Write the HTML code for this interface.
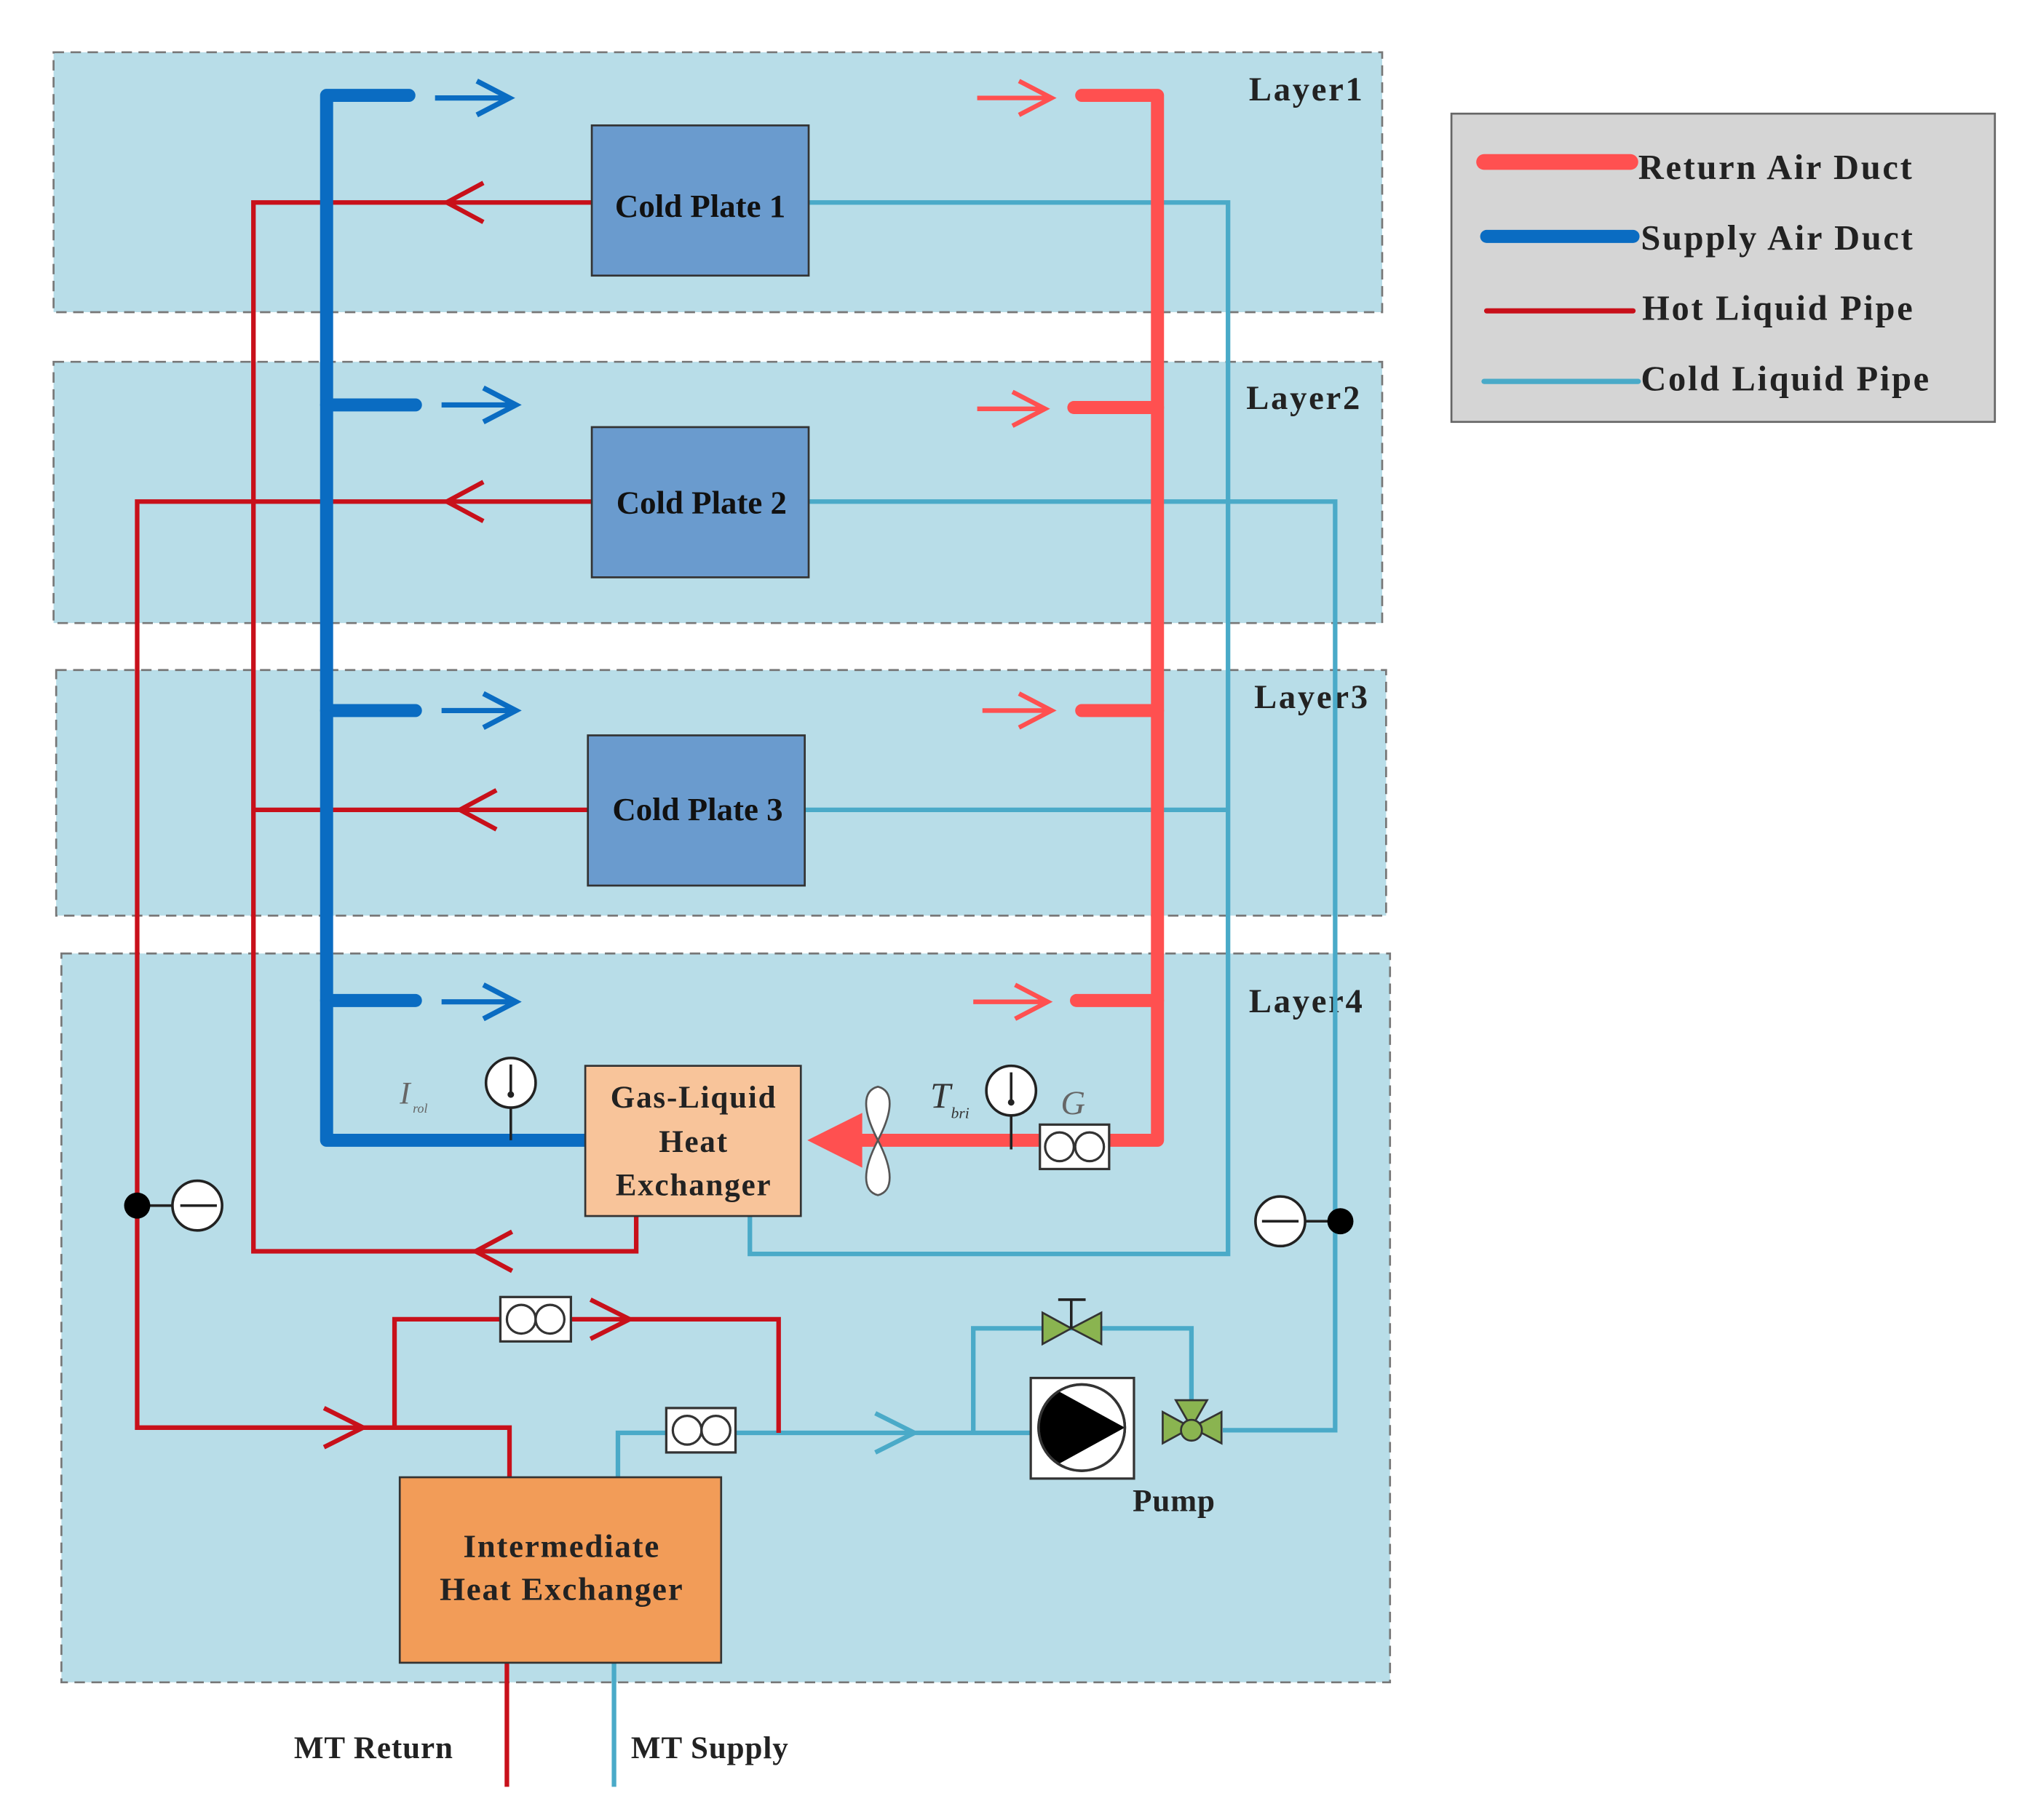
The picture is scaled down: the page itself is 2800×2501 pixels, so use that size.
<!DOCTYPE html>
<html><head><meta charset="utf-8"><style>html,body{margin:0;padding:0;background:#fff}svg{display:block}</style></head>
<body>
<svg width="2800" height="2501" viewBox="0 0 1560 1393.4" xmlns="http://www.w3.org/2000/svg" font-family="Liberation Serif, serif" font-weight="bold">
<g fill="#b8dde8" stroke="#777" stroke-width="1.5" stroke-dasharray="8,5">
<rect x="41" y="40" width="1017" height="199"/>
<rect x="41" y="277" width="1017" height="200"/>
<rect x="43" y="513" width="1018" height="188"/>
<rect x="47" y="730" width="1017" height="558"/>
</g>
<g font-size="26" fill="#222" letter-spacing="1.5">
<text x="956" y="77">Layer1</text><text x="954" y="313">Layer2</text><text x="960" y="542">Layer3</text><text x="956" y="775">Layer4</text>
</g>
<rect x="1111" y="87" width="416" height="236" fill="#d5d5d5" stroke="#666" stroke-width="1.5"/>
<g stroke-linecap="round">
<line x1="1136" y1="124" x2="1248" y2="124" stroke="#ff5050" stroke-width="12"/>
<line x1="1138" y1="181" x2="1250" y2="181" stroke="#0a6cc2" stroke-width="10"/>
<line x1="1138" y1="238" x2="1250" y2="238" stroke="#c8101a" stroke-width="4"/>
<line x1="1136" y1="292" x2="1254" y2="292" stroke="#4aaac8" stroke-width="4"/>
</g>
<g font-size="27" fill="#222" letter-spacing="1.5">
<text x="1254" y="137">Return Air Duct</text>
<text x="1256" y="191">Supply Air Duct</text>
<text x="1257" y="245">Hot Liquid Pipe</text>
<text x="1256" y="299">Cold Liquid Pipe</text>
</g>
<g fill="none" stroke="#4aaac8" stroke-width="3.5">
<polyline points="619,155 940,155 940,960 574,960 574,931"/>
<line x1="616" y1="620" x2="940" y2="620"/>
<polyline points="619,384 1022,384 1022,1095 936,1095"/>
<polyline points="473,1131 473,1097 868,1097"/>
<polyline points="745,1097 745,1017 912,1017 912,1080"/>
<polyline points="670,1082 700,1097 670,1112"/>
<line x1="470" y1="1273" x2="470" y2="1368"/>
</g>
<g fill="none" stroke="#c8101a" stroke-width="3.5">
<polyline points="453,155 194,155 194,958 487,958 487,931"/>
<line x1="450" y1="620" x2="194" y2="620"/>
<polyline points="453,384 105,384 105,1093 390,1093 390,1131"/>
<polyline points="302,1093 302,1010 596,1010 596,1097"/>
<line x1="388" y1="1273" x2="388" y2="1368"/>
<polyline points="370,140 342,155 370,170"/><polyline points="370,369 342,384 370,399"/><polyline points="380,605 352,620 380,635"/><polyline points="392,943 364,958 392,973"/>
<polyline points="248,1078 278,1093 248,1108"/><polyline points="452,995 482,1010 452,1025"/>
</g>
<g fill="none" stroke="#0a6cc2" stroke-width="10" stroke-linecap="round" stroke-linejoin="round">
<polyline points="313,73 250,73 250,873 450,873"/>
<line x1="250" y1="310" x2="318" y2="310"/><line x1="250" y1="544" x2="318" y2="544"/><line x1="250" y1="766" x2="318" y2="766"/>
</g>
<g fill="none" stroke="#0a6cc2" stroke-width="4">
<path d="M333,75H388M365,62L390,75L365,88"/><path d="M338,310H393M370,297L395,310L370,323"/><path d="M338,544H393M370,531L395,544L370,557"/><path d="M338,767H393M370,754L395,767L370,780"/>
</g>
<g fill="none" stroke="#ff5050" stroke-width="10" stroke-linecap="round" stroke-linejoin="round">
<polyline points="828,73 886,73 886,873 660,873"/>
<line x1="886" y1="312" x2="822" y2="312"/><line x1="886" y1="544" x2="828" y2="544"/><line x1="886" y1="766" x2="824" y2="766"/>
</g>
<polygon points="618,873 660,852 660,894" fill="#ff5050"/>
<g fill="none" stroke="#ff5050" stroke-width="3.5">
<path d="M748,75H803M780,62L805,75L780,88"/><path d="M748,313H798M775,300L800,313L775,326"/><path d="M752,544H803M780,531L805,544L780,557"/><path d="M745,767H800M777,754L802,767L777,780"/>
</g>
<g fill="#6a9bce" stroke="#333" stroke-width="1.5">
<rect x="453" y="96" width="166" height="115"/><rect x="453" y="327" width="166" height="115"/><rect x="450" y="563" width="166" height="115"/>
</g>
<g font-size="25" fill="#111" text-anchor="middle">
<text x="536" y="166">Cold Plate 1</text><text x="537" y="393">Cold Plate 2</text><text x="534" y="628">Cold Plate 3</text>
</g>
<rect x="448" y="816" width="165" height="115" fill="#f8c49a" stroke="#333" stroke-width="1.5"/>
<g font-size="24" fill="#222" text-anchor="middle" letter-spacing="1">
<text x="531" y="848">Gas-Liquid</text><text x="531" y="882">Heat</text><text x="531" y="915">Exchanger</text>
</g>
<rect x="306" y="1131" width="246" height="142" fill="#f29c58" stroke="#333" stroke-width="1.5"/>
<g font-size="25" fill="#222" text-anchor="middle" letter-spacing="1">
<text x="430" y="1192">Intermediate</text><text x="430" y="1225">Heat Exchanger</text>
</g>
<g font-size="24" fill="#222" letter-spacing="0.5">
<text x="225" y="1346">MT Return</text><text x="483" y="1346">MT Supply</text><text x="867" y="1157">Pump</text>
</g>
<path d="M672,873 C660,850 660,835 672,832 C684,835 684,850 672,873 C684,896 684,912 672,915 C660,912 660,896 672,873Z" fill="#fff" stroke="#555" stroke-width="1.5"/>
<g stroke="#222" stroke-width="2" fill="#fff">
<line x1="391" y1="829" x2="391" y2="873"/><circle cx="391" cy="829" r="19"/><line x1="391" y1="815" x2="391" y2="836"/>
<line x1="774" y1="835" x2="774" y2="880"/><circle cx="774" cy="835" r="19"/><line x1="774" y1="821" x2="774" y2="842"/>
</g>
<circle cx="391" cy="838" r="2.5" fill="#222"/><circle cx="774" cy="844" r="2.5" fill="#222"/>
<g font-style="italic" font-weight="normal" fill="#666">
<text x="306" y="845" font-size="24">I</text><text x="316" y="852" font-size="10">rol</text>
<text x="712" y="848" font-size="28" fill="#333">T</text><text x="728" y="856" font-size="12" fill="#333">bri</text>
<text x="812" y="853" font-size="26">G</text>
</g>
<g stroke="#333" stroke-width="1.8" fill="#fff">
<rect x="796" y="861" width="53" height="34"/><rect x="383" y="993" width="54" height="34"/><rect x="510" y="1078" width="53" height="34"/>
<circle cx="811" cy="878" r="11"/><circle cx="834" cy="878" r="11"/>
<circle cx="399" cy="1010" r="11"/><circle cx="421" cy="1010" r="11"/>
<circle cx="526" cy="1095" r="11"/><circle cx="548" cy="1095" r="11"/>
</g>
<g stroke="#222" stroke-width="2">
<line x1="105" y1="923" x2="132" y2="923"/><circle cx="151" cy="923" r="19" fill="#fff"/><line x1="138" y1="923" x2="166" y2="923"/>
<line x1="999" y1="935" x2="1026" y2="935"/><circle cx="980" cy="935" r="19" fill="#fff"/><line x1="966" y1="935" x2="994" y2="935"/>
</g>
<circle cx="105" cy="923" r="10" fill="#000"/><circle cx="1026" cy="935" r="10" fill="#000"/>
<g stroke="#333" stroke-width="1.5" fill="#8ab450">
<polygon points="798,1005 820,1017 798,1029"/><polygon points="843,1005 820,1017 843,1029"/>
<polygon points="890,1081 912,1093 890,1105"/><polygon points="935,1081 912,1093 935,1105"/><polygon points="900,1072 924,1072 912,1093"/>
<circle cx="912" cy="1095" r="8"/>
</g>
<path d="M820,1017V996M810,995H831" stroke="#222" stroke-width="2"/>
<rect x="789" y="1055" width="79" height="77" fill="#fff" stroke="#333" stroke-width="1.8"/>
<circle cx="828" cy="1093" r="33" fill="#000" stroke="#333" stroke-width="2"/>
<path d="M810,1065 A33 33 0 0 1 861,1093 Z" fill="#fff"/><path d="M810,1121 A33 33 0 0 0 861,1093 Z" fill="#fff"/>
<circle cx="828" cy="1093" r="33" fill="none" stroke="#333" stroke-width="2"/>
</svg>
</body></html>
